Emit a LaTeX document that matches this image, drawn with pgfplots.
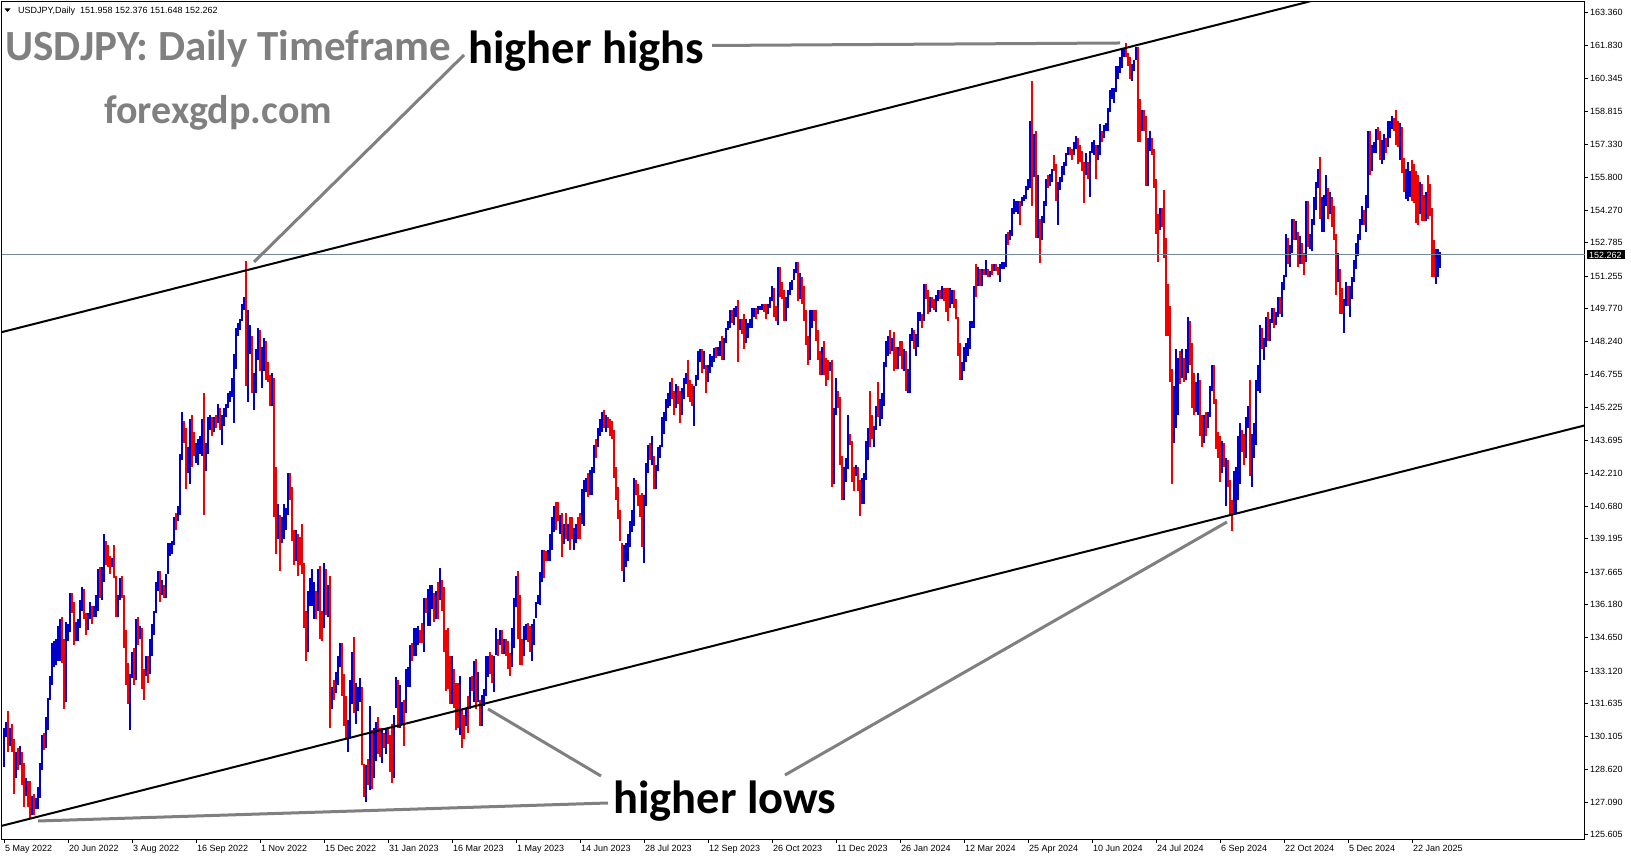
\documentclass[border=0pt]{standalone}
\usepackage{pgfplots}
\pgfplotsset{compat=1.18}
\usepackage{pgfplotstable}
\usepackage{fontspec}
\setmainfont{Liberation Sans}
\newfontfamily\calb{Carlito}
\definecolor{barup}{RGB}{0,0,204}
\definecolor{bardn}{RGB}{240,0,0}
\definecolor{annot}{RGB}{128,128,128}
\definecolor{bidline}{RGB}{119,136,153}

% daily bars: index, low, high, up(1)/down(0)
\pgfplotstableread{
i lo hi c
1 128.7 130.5 1
2 130.1 130.8 1
3 129.4 131.3 0
4 129.7 130.5 1
5 129.4 130.7 0
6 127.5 130.0 0
7 128.2 129.4 1
8 128.6 129.6 0
9 128.8 129.7 1
10 127.9 129.4 0
11 126.9 128.9 0
12 127.4 128.2 1
13 126.9 128.1 0
14 126.4 128.1 0
15 126.5 127.4 1
16 126.5 127.5 0
17 126.8 127.3 1
18 126.8 127.8 1
19 127.3 128.9 1
20 128.6 130.2 1
21 129.5 130.3 0
22 129.6 131.0 1
23 130.4 131.9 1
24 131.8 132.9 1
25 132.5 134.4 1
26 133.3 134.5 1
27 133.4 134.6 1
28 133.6 135.2 1
29 133.6 135.5 1
30 133.5 135.6 0
31 131.4 134.6 0
32 131.7 135.4 1
33 134.5 135.3 1
34 134.9 136.7 1
35 135.8 136.7 0
36 134.3 136.3 0
37 134.5 135.4 1
38 134.5 135.5 1
39 135.1 136.4 1
40 135.9 137.0 1
41 135.5 136.9 0
42 134.8 135.8 0
43 135.0 135.8 1
44 135.5 136.3 1
45 135.3 136.1 0
46 135.6 136.1 1
47 135.6 136.6 1
48 135.9 137.8 1
49 136.5 137.9 0
50 136.4 137.9 1
51 137.2 139.4 1
52 138.0 139.1 0
53 137.9 138.9 0
54 137.6 138.4 0
55 137.9 138.3 1
56 137.4 138.9 0
57 135.6 137.5 0
58 135.6 136.6 1
59 136.4 137.4 1
60 136.5 137.5 0
61 134.2 136.6 0
62 132.5 135.0 0
63 131.6 133.5 0
64 130.4 133.0 1
65 132.8 134.0 1
66 132.5 134.2 0
67 132.7 135.5 1
68 134.3 135.6 0
69 134.6 135.2 1
70 132.3 135.1 0
71 131.8 133.2 0
72 132.9 133.8 1
73 132.6 133.8 0
74 133.0 134.6 1
75 133.8 135.3 1
76 134.8 135.9 1
77 135.8 137.2 1
78 136.8 137.7 1
79 136.3 137.7 0
80 136.6 137.3 1
81 136.5 137.1 0
82 136.5 137.6 1
83 137.6 139.0 1
84 138.4 139.0 1
85 138.5 139.1 1
86 138.9 140.2 1
87 139.6 140.4 0
88 140.0 140.7 1
89 140.3 143.1 1
90 142.8 145.0 1
91 143.6 144.6 0
92 141.5 144.3 0
93 142.2 143.4 1
94 141.7 144.7 1
95 142.5 144.9 0
96 143.0 144.1 0
97 142.7 143.6 1
98 142.6 143.8 1
99 143.1 143.9 1
100 143.0 144.7 1
101 140.3 145.9 0
102 142.3 143.6 1
103 143.1 144.8 1
104 144.2 144.9 1
105 143.9 144.8 0
106 144.1 144.8 1
107 144.3 144.9 0
108 144.5 145.4 1
109 144.2 145.2 0
110 143.5 144.9 1
111 144.4 145.2 1
112 144.8 145.4 1
113 145.2 145.9 1
114 145.5 146.0 1
115 145.7 146.6 1
116 144.5 147.7 1
117 147.0 148.9 1
118 148.5 149.1 1
119 148.8 149.3 1
120 149.2 150.0 1
121 149.7 150.3 1
122 146.2 151.95 0
123 145.5 149.7 1
124 147.7 149.0 1
125 145.9 148.5 0
126 145.1 146.8 1
127 145.9 147.9 1
128 147.4 148.9 1
129 146.9 148.8 0
130 146.1 148.0 1
131 146.9 148.4 1
132 146.5 148.3 0
133 146.4 147.3 0
134 145.3 146.7 0
135 145.3 146.8 1
136 140.2 146.6 0
137 138.5 142.5 0
138 139.2 140.8 1
139 137.7 140.3 0
140 139.0 140.2 1
141 139.2 140.8 1
142 139.6 140.6 1
143 140.3 142.2 1
144 141.0 142.2 0
145 139.1 141.6 0
146 138.0 139.6 0
147 138.2 139.6 1
148 137.5 139.4 0
149 138.0 139.3 0
150 137.6 139.9 0
151 135.1 138.1 0
152 133.6 135.9 0
153 134.0 136.8 1
154 136.1 137.4 1
155 136.1 137.8 1
156 135.5 137.2 1
157 135.5 136.8 0
158 135.9 137.8 1
159 134.6 137.95 0
160 134.5 135.9 0
161 135.1 138.1 1
162 135.7 137.8 0
163 135.6 137.1 1
164 130.5 137.5 0
165 131.4 132.4 1
166 131.8 132.7 0
167 132.1 133.1 1
168 132.5 133.8 1
169 133.3 134.4 1
170 132.0 134.4 0
171 130.6 133.0 0
172 130.0 132.0 0
173 129.4 130.9 1
174 130.0 132.7 1
175 131.6 134.0 1
176 131.2 134.7 0
177 130.7 132.6 1
178 131.3 132.4 1
179 131.7 132.8 1
180 128.8 132.4 0
181 127.35 128.85 0
182 127.1 128.8 1
183 127.9 129.1 0
184 127.65 131.5 1
185 127.7 130.4 0
186 128.2 130.5 1
187 129.0 130.8 1
188 129.3 131.0 0
189 129.2 130.5 0
190 128.9 130.5 1
191 129.6 130.3 0
192 129.3 130.5 1
193 129.8 130.5 0
194 128.5 130.2 0
195 128.0 130.7 0
196 128.2 131.1 1
197 131.45 132.85 1
198 130.5 132.7 0
199 130.5 132.5 1
200 130.7 131.7 1
201 129.7 131.8 0
202 131.2 133.2 1
203 132.4 133.3 1
204 132.4 134.3 1
205 133.6 134.4 0
206 133.8 135.1 1
207 133.8 135.1 1
208 134.3 135.2 1
209 134.4 135.0 0
210 134.4 135.35 0
211 134.0 136.5 1
212 135.8 136.5 0
213 135.2 136.9 1
214 135.2 137.1 1
215 135.96 137.07 1
216 135.4 136.7 0
217 135.5 136.8 1
218 135.5 137.2 0
219 136.4 137.84 1
220 135.9 137.3 0
221 134.0 137.0 0
222 132.2 135.0 0
223 132.3 135.1 0
224 131.6 133.8 0
225 131.6 133.8 1
226 131.45 133.2 0
227 130.4 132.6 0
228 130.5 132.6 0
229 130.2 132.9 1
230 129.6 131.4 0
231 130.0 131.1 0
232 130.6 131.4 1
233 130.3 132.0 0
234 131.4 132.85 1
235 132.2 132.9 0
236 131.7 133.6 1
237 131.4 133.7 0
238 131.7 133.1 1
239 130.6 131.8 0
240 130.6 132.05 1
241 131.5 132.3 1
242 132.0 133.8 1
243 132.85 133.8 1
244 133.0 134.0 0
245 132.6 133.85 0
246 132.15 133.8 1
247 133.85 135.1 1
248 133.8 134.6 0
249 134.3 135.0 1
250 133.9 135.0 0
251 133.9 134.6 1
252 133.8 134.6 0
253 133.2 134.5 0
254 132.9 133.94 0
255 133.3 135.1 1
256 134.2 136.5 1
257 136.05 137.5 1
258 134.6 137.7 0
259 133.4 136.6 0
260 133.4 134.6 0
261 133.8 135.2 1
262 134.56 135.3 1
263 134.47 135.35 0
264 134.0 135.2 0
265 133.6 135.3 1
266 134.3 135.5 1
267 135.56 136.3 1
268 136.2 136.6 1
269 136.14 137.67 1
270 137.2 138.7 1
271 137.4 138.7 0
272 138.2 138.65 0
273 138.2 138.7 1
274 138.2 139.42 1
275 138.7 140.2 1
276 139.5 140.7 1
277 139.6 140.9 0
278 140.0 140.9 0
279 139.42 140.27 1
280 138.37 140.4 0
281 138.95 139.9 1
282 139.2 140.4 0
283 139.1 139.9 1
284 138.7 140.2 0
285 139.2 140.2 0
286 138.7 139.7 1
287 139.0 139.9 1
288 139.2 140.2 0
289 139.2 140.4 0
290 139.9 141.5 1
291 139.8 141.9 1
292 141.36 142.0 1
293 141.1 142.2 0
294 141.2 142.34 1
295 141.2 142.5 1
296 142.2 143.5 1
297 142.9 143.8 0
298 143.4 144.3 1
299 143.9 144.7 1
300 144.1 145.0 1
301 144.3 145.1 0
302 144.1 144.9 1
303 144.3 144.8 0
304 143.9 144.7 0
305 143.8 144.6 0
306 142.0 144.2 0
307 141.0 142.5 0
308 140.1 141.6 0
309 139.1 140.5 0
310 137.7 139.0 0
311 137.2 138.9 1
312 137.9 139.0 1
313 138.2 139.4 1
314 138.8 140.0 1
315 139.5 140.5 1
316 139.8 142.0 1
317 141.2 141.9 0
318 140.7 141.7 0
319 140.2 141.2 0
320 138.8 141.3 0
321 138.1 141.2 1
322 140.7 142.7 1
323 142.2 143.5 1
324 142.8 143.6 0
325 142.6 143.9 1
326 141.5 143.0 0
327 141.5 142.6 1
328 142.3 143.4 1
329 142.9 143.5 1
330 143.4 144.8 1
331 144.0 145.0 1
332 144.6 145.6 1
333 145.2 145.9 1
334 145.3 146.4 1
335 145.6 146.6 0
336 144.9 146.0 0
337 145.2 146.3 1
338 145.4 146.2 0
339 144.5 146.0 0
340 144.9 146.1 1
341 145.6 146.6 1
342 146.3 146.8 1
343 145.7 147.4 0
344 145.5 146.5 0
345 145.3 146.3 0
346 144.4 146.2 1
347 146.2 146.7 1
348 146.5 147.8 1
349 147.3 147.9 1
350 146.8 147.9 0
351 147.0 147.8 1
352 145.9 147.2 0
353 146.4 147.2 1
354 146.8 147.7 1
355 147.1 147.6 1
356 147.3 147.95 1
357 147.5 148.0 0
358 147.6 148.0 1
359 147.6 148.3 1
360 147.4 148.5 0
361 147.4 148.4 1
362 148.2 148.9 1
363 148.8 149.2 1
364 148.9 149.7 1
365 149.1 149.7 0
366 149.0 149.8 1
367 149.4 149.9 1
368 147.3 150.16 0
369 148.8 149.3 1
370 148.6 149.3 0
371 147.9 149.5 0
372 148.2 149.3 1
373 148.4 149.1 1
374 148.9 149.3 1
375 148.9 149.8 1
376 149.4 149.8 1
377 149.3 149.8 0
378 149.5 149.9 1
379 149.7 149.9 1
380 149.7 150.0 1
381 149.6 150.0 0
382 149.3 150.0 0
383 149.5 150.0 1
384 149.8 150.3 1
385 150.1 150.8 1
386 149.4 150.7 0
387 149.2 149.9 0
388 149.0 151.7 1
389 150.3 151.7 0
390 150.2 151.0 0
391 149.2 150.6 0
392 149.2 150.3 1
393 149.8 150.6 1
394 150.4 151.0 1
395 150.6 151.1 1
396 151.1 151.6 1
397 151.4 151.9 1
398 150.1 151.9 0
399 150.2 151.4 1
400 150.0 151.2 0
401 149.2 150.8 0
402 148.1 149.7 0
403 147.2 148.5 0
404 147.4 149.7 1
405 148.9 149.7 1
406 149.2 149.7 0
407 148.3 149.7 0
408 147.4 148.8 0
409 146.7 147.8 0
410 146.7 148.0 1
411 146.7 148.3 0
412 146.2 147.5 0
413 146.5 147.4 0
414 146.9 147.3 1
415 141.6 147.4 0
416 141.7 145.2 1
417 144.9 146.6 1
418 145.2 146.0 0
419 142.6 145.7 0
420 141.0 143.0 0
421 141.0 142.5 1
422 141.8 142.9 1
423 142.4 144.9 1
424 143.5 144.0 0
425 141.8 143.7 0
426 141.4 142.5 0
427 142.1 142.6 1
428 141.4 142.5 0
429 140.25 141.9 0
430 140.8 142.0 1
431 140.8 142.2 1
432 141.9 143.7 1
433 142.8 144.3 1
434 143.4 146.0 0
435 143.8 144.9 0
436 143.4 144.4 1
437 144.2 145.3 1
438 144.8 146.4 0
439 144.4 145.6 1
440 144.7 145.9 1
441 145.3 147.3 1
442 147.1 148.3 1
443 147.6 148.5 1
444 147.7 148.8 0
445 147.8 148.4 1
446 146.9 148.7 0
447 147.0 148.0 0
448 147.0 148.0 1
449 147.6 148.3 0
450 147.0 148.3 0
451 146.9 147.9 1
452 146.0 147.8 0
453 145.9 147.0 1
454 145.9 148.6 1
455 148.3 148.9 1
456 147.9 148.8 0
457 147.6 148.6 1
458 148.0 149.6 1
459 149.2 149.6 1
460 148.9 149.5 0
461 149.2 150.9 1
462 150.2 150.9 0
463 149.5 150.6 0
464 149.6 150.3 1
465 149.8 150.3 0
466 149.7 150.2 0
467 149.6 150.4 1
468 150.1 150.6 1
469 150.2 150.6 0
470 150.2 150.8 1
471 150.1 150.7 0
472 149.6 150.7 0
473 149.2 150.7 0
474 149.8 150.7 1
475 150.0 150.6 1
476 149.8 150.6 0
477 149.3 150.2 0
478 147.6 149.4 0
479 146.5 148.2 0
480 146.5 147.3 1
481 146.9 148.0 1
482 147.3 148.2 1
483 147.6 148.4 1
484 147.9 149.2 1
485 148.9 149.2 1
486 148.9 150.8 1
487 150.3 151.8 0
488 150.8 151.7 1
489 150.8 151.6 0
490 150.8 151.6 1
491 151.3 151.6 0
492 151.3 152.0 1
493 151.2 151.6 0
494 151.2 151.5 1
495 151.3 151.8 0
496 151.5 151.8 1
497 151.5 151.8 0
498 151.3 151.7 0
499 151.0 151.8 1
500 151.6 151.9 1
501 151.6 151.9 1
502 151.7 153.2 1
503 152.7 153.3 0
504 152.9 153.4 1
505 153.1 154.4 1
506 154.1 154.8 1
507 154.2 154.7 1
508 154.1 154.7 1
509 153.6 154.7 0
510 154.5 154.9 1
511 154.7 155.0 1
512 154.8 155.4 1
513 155.2 155.7 1
514 155.3 158.4 1
515 154.5 160.2 0
516 155.8 157.8 1
517 153.0 157.9 0
518 153.0 155.9 1
519 151.86 153.9 0
520 152.9 154.0 1
521 153.7 154.7 1
522 154.5 155.7 1
523 155.3 155.9 0
524 155.4 155.95 1
525 155.6 156.2 1
526 156.1 156.8 0
527 154.7 156.4 0
528 153.6 155.6 1
529 155.2 155.8 1
530 155.6 156.3 1
531 155.9 156.5 1
532 156.3 156.9 1
533 156.8 157.2 1
534 156.8 157.2 0
535 156.6 157.1 0
536 156.8 157.4 1
537 157.1 157.7 1
538 156.4 157.6 0
539 156.5 157.3 0
540 156.1 157.0 0
541 154.6 156.5 0
542 155.9 156.9 1
543 155.7 156.5 0
544 154.9 157.0 1
545 156.9 157.4 1
546 156.8 157.5 1
547 155.7 157.3 0
548 156.6 157.3 1
549 156.8 158.25 1
550 157.4 157.9 0
551 157.6 158.2 1
552 157.9 158.3 1
553 157.9 159.0 1
554 158.8 159.8 1
555 159.4 159.9 1
556 159.2 159.9 1
557 159.7 160.9 1
558 160.3 160.9 1
559 160.6 161.3 1
560 160.8 161.7 1
561 161.3 161.7 1
562 161.3 161.95 0
563 160.9 161.5 0
564 160.3 161.3 0
565 160.2 161.0 1
566 160.7 161.2 1
567 161.2 161.8 1
568 157.4 161.8 0
569 157.4 159.4 0
570 157.9 158.9 1
571 157.9 158.9 0
572 155.4 158.6 0
573 155.4 157.6 1
574 157.0 157.9 1
575 156.8 157.6 0
576 155.3 157.1 0
577 153.2 155.7 0
578 151.9 154.1 0
579 153.4 154.4 1
580 153.5 154.4 0
581 152.1 155.2 0
582 148.5 153.0 0
583 148.5 150.9 0
584 146.4 149.9 0
585 141.7 147.0 0
586 143.6 146.2 1
587 144.3 147.9 1
588 144.9 147.5 1
589 146.3 147.8 0
590 146.6 147.9 1
591 146.4 147.5 0
592 146.5 147.9 1
593 146.8 149.4 1
594 147.2 149.2 0
595 145.2 148.2 0
596 144.9 146.8 0
597 145.0 146.4 1
598 144.9 146.8 1
599 143.9 146.5 0
600 143.4 144.9 0
601 143.6 144.9 1
602 143.9 145.0 0
603 144.3 145.0 1
604 144.8 146.2 1
605 146.0 147.2 1
606 145.4 147.2 0
607 143.3 145.6 0
608 142.9 144.1 0
609 141.8 143.9 0
610 142.2 143.7 1
611 142.5 143.6 0
612 140.7 142.9 1
613 141.6 142.8 0
614 140.3 141.9 0
615 139.58 141.0 0
616 140.3 142.3 1
617 140.4 142.5 1
618 141.0 143.9 1
619 141.7 144.5 1
620 143.2 144.2 0
621 142.6 144.0 0
622 142.9 144.8 1
623 144.3 145.3 1
624 142.1 146.5 0
625 141.6 144.0 1
626 142.9 144.5 1
627 143.5 146.5 1
628 146.0 147.2 1
629 145.9 149.0 1
630 147.9 148.9 0
631 147.4 148.4 1
632 148.0 149.4 1
633 148.3 149.6 0
634 148.3 149.3 1
635 149.1 149.8 1
636 148.9 149.8 0
637 149.0 149.6 1
638 149.4 150.3 1
639 149.5 150.3 0
640 149.4 151.0 1
641 150.6 151.3 1
642 151.2 153.2 1
643 151.8 153.0 0
644 151.7 152.7 1
645 152.3 153.9 1
646 152.9 153.9 0
647 152.9 153.8 1
648 151.7 153.3 0
649 151.8 153.1 1
650 151.8 152.8 0
651 151.3 152.3 0
652 151.9 154.7 1
653 152.6 154.7 0
654 152.5 153.2 1
655 152.4 153.9 1
656 153.6 154.9 1
657 154.3 155.6 1
658 155.3 156.2 1
659 153.9 156.75 0
660 153.3 154.9 1
661 153.3 155.0 1
662 154.5 155.9 1
663 153.9 155.3 0
664 154.1 155.1 1
665 153.5 154.9 0
666 152.9 154.5 0
667 150.4 153.2 0
668 151.0 152.3 1
669 149.5 151.6 0
670 149.5 150.7 0
671 148.65 150.2 1
672 149.9 151.0 1
673 149.9 150.8 0
674 149.4 150.8 1
675 150.2 151.2 1
676 151.0 152.0 1
677 151.6 152.8 1
678 152.2 153.2 1
679 152.9 153.9 1
680 153.6 154.5 1
681 153.6 154.3 0
682 153.3 155.0 1
683 154.4 157.9 1
684 155.9 157.9 0
685 156.1 157.3 1
686 156.9 157.4 1
687 156.9 158.0 1
688 157.5 158.1 0
689 156.6 157.9 0
690 156.4 157.5 1
691 156.6 157.8 1
692 156.9 157.6 0
693 157.2 158.4 1
694 157.6 158.4 1
695 158.0 158.6 1
696 157.9 158.5 0
697 157.3 158.87 0
698 157.2 158.4 0
699 156.6 158.3 1
700 156.0 158.1 0
701 155.1 156.7 0
702 154.8 156.2 1
703 154.7 156.5 1
704 154.9 156.1 1
705 154.7 156.6 0
706 154.6 156.4 0
707 153.7 156.1 0
708 153.6 155.9 0
709 154.1 155.6 1
710 153.8 155.5 0
711 153.8 155.0 0
712 153.8 155.1 1
713 153.9 155.9 0
714 154.0 155.5 0
715 151.2 154.4 0
716 151.2 152.9 0
717 150.9 152.5 1
718 151.2 152.5 1
719 151.648 152.376 1
}\bars

\begin{document}
\begin{tikzpicture}[x=1pt,y=1pt]
\fill[white] (0,0) rectangle (1631,861);
\useasboundingbox (0,0) rectangle (1631,861);
\begin{axis}[
    at={(2pt,21pt)}, anchor=south west,
    scale only axis,
    width=1583pt, height=838pt,
    xmin=0, xmax=791.5,
    ymin=125.37, ymax=163.846,
    axis line style={black, line width=1pt},
    tick align=outside,
    major tick length=3pt,
    tick style={black, line width=0.8pt},
    xtick pos=bottom, ytick pos=right,
    yticklabel pos=right,
    xtick={1,33,...,705},
    xticklabels={5 May 2022, 20 Jun 2022, 3 Aug 2022, 16 Sep 2022, 1 Nov 2022,
      15 Dec 2022, 31 Jan 2023, 16 Mar 2023, 1 May 2023, 14 Jun 2023,
      28 Jul 2023, 12 Sep 2023, 26 Oct 2023, 11 Dec 2023, 26 Jan 2024,
      12 Mar 2024, 25 Apr 2024, 10 Jun 2024, 24 Jul 2024, 6 Sep 2024,
      22 Oct 2024, 5 Dec 2024, 22 Jan 2025},
    ytick={125.605,127.090,128.620,130.105,131.635,133.120,134.650,136.180,
      137.665,139.195,140.680,142.210,143.695,145.225,146.755,148.240,
      149.770,151.255,152.785,154.270,155.800,157.330,158.815,160.345,
      161.830,163.360},
    yticklabels={125.605,127.090,128.620,130.105,131.635,133.120,134.650,136.180,
      137.665,139.195,140.680,142.210,143.695,145.225,146.755,148.240,
      149.770,151.255,152.785,154.270,155.800,157.330,158.815,160.345,
      161.830,163.360},
    yticklabel style={font=\fontsize{9}{10}\selectfont, anchor=west, inner sep=0pt, xshift=2pt},
    xticklabel style={font=\fontsize{9}{10}\selectfont, anchor=north west, inner sep=0pt, xshift=1pt, yshift=-2pt},
]
% down bars
\addplot[bardn, line width=1.1pt,
    quiver={u=0, v=\thisrow{hi}-\thisrow{lo}},
    restrict expr to domain={\thisrow{c}}{0:0}]
    table[x=i, y=lo] {\bars};
% up bars
\addplot[barup, line width=1.1pt,
    quiver={u=0, v=\thisrow{hi}-\thisrow{lo}},
    restrict expr to domain={\thisrow{c}}{1:1}]
    table[x=i, y=lo] {\bars};

% bid line
\draw[bidline, line width=1pt] (axis cs:0,152.262) -- (axis cs:791.5,152.262);
% channel lines
\draw[black, line width=2pt] (axis cs:-1,148.667) -- (axis cs:792,167.08);
\draw[black, line width=2pt] (axis cs:-1,126.0) -- (axis cs:792,144.42);
\end{axis}

% overlay in image pixel coordinates (origin top left)
\begin{scope}[shift={(0,861)}, yscale=-1]
  % header
  \fill[black] (4.5,8.5) -- (10.5,8.5) -- (7.5,12) -- cycle;
  \node[anchor=base west, inner sep=0pt, font=\fontsize{9}{10}\selectfont] at (18,14)
    {USDJPY,Daily\ \ 151.958 152.376 151.648 152.262};
  % price label box
  \fill[black] (1587,250.5) rectangle (1625,259.5);
  \node[anchor=west, inner sep=0pt, text=white, font=\fontsize{9}{10}\selectfont] at (1589,255) {152.262};

  % titles
  \node[anchor=base west, inner sep=0pt, text=annot, font=\calb\bfseries\fontsize{43}{48}\selectfont] at (5,61)
    {USDJPY: Daily Timeframe};
  \node[anchor=base west, inner sep=0pt, text=annot, font=\calb\bfseries\fontsize{40}{46}\selectfont] at (104,124)
    {forexgdp.com};

  % annotation lines
  \draw[annot, line width=3pt] (464,55) -- (254,262);
  \draw[annot, line width=3pt] (712,45.5) -- (1120,43);
  \draw[annot, line width=3pt] (601,776) -- (488,709);
  \draw[annot, line width=3pt] (608,803) -- (38,821);
  \draw[annot, line width=3pt] (785,775) -- (1227,522);

  \node[anchor=base west, inner sep=0pt, text=black, font=\calb\bfseries\fontsize{46.5}{52}\selectfont] at (468,64)
    {higher highs};
  \node[anchor=base west, inner sep=0pt, text=black, font=\calb\bfseries\fontsize{46.5}{52}\selectfont] at (613,814)
    {higher lows};
\end{scope}
\end{tikzpicture}
\end{document}
